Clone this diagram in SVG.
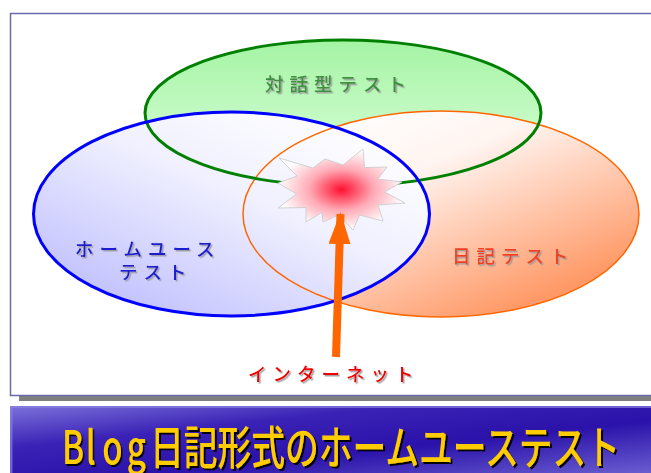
<svg xmlns="http://www.w3.org/2000/svg" width="651" height="473" viewBox="0 0 651 473">
  <defs>
    <linearGradient id="gGreen" x1="0" y1="0" x2="0" y2="1">
      <stop offset="0" stop-color="#a4f4a4"/>
      <stop offset="1" stop-color="#e0ffe0"/>
    </linearGradient>
    <linearGradient id="gOrange" x1="0.1" y1="0.1" x2="0.75" y2="0.9">
      <stop offset="0" stop-color="#ffffff"/>
      <stop offset="0.35" stop-color="#fff4f0"/>
      <stop offset="1" stop-color="#ff9a68"/>
    </linearGradient>
    <linearGradient id="gBlue" x1="0.9" y1="0.1" x2="0.2" y2="0.9">
      <stop offset="0" stop-color="#ffffff"/>
      <stop offset="0.45" stop-color="#f0f0ff"/>
      <stop offset="1" stop-color="#c4c4ff"/>
    </linearGradient>
    <radialGradient id="gStar" cx="0.5" cy="0.5" r="0.5">
      <stop offset="0" stop-color="#ff1030"/>
      <stop offset="0.5" stop-color="#ffa8b4"/>
      <stop offset="1" stop-color="#ffffff"/>
    </radialGradient>
    <linearGradient id="gBar" x1="0" y1="0" x2="1" y2="1">
      <stop offset="0" stop-color="#7c72da"/>
      <stop offset="0.3" stop-color="#3a22b6"/>
      <stop offset="0.6" stop-color="#2a12aa"/>
      <stop offset="1" stop-color="#6e62d2"/>
    </linearGradient>
    <filter id="soft" x="-10%" y="-30%" width="130%" height="170%">
      <feDropShadow dx="1.5" dy="1.5" stdDeviation="0.6" flood-color="#9a9a9a" flood-opacity="0.9"/>
    </filter>
    <filter id="hard" x="-10%" y="-30%" width="130%" height="170%">
      <feDropShadow dx="2" dy="2" stdDeviation="0.4" flood-color="#000000" flood-opacity="0.95"/>
    </filter>
    <marker id="arrowHead" viewBox="0 0 32 22" refX="30" refY="11" markerWidth="32" markerHeight="22" markerUnits="userSpaceOnUse" orient="auto">
      <path d="M0,0 L32,11 L0,22 Z" fill="#ff6600"/>
    </marker>
  </defs>
  <style>
    .lbl { font-family: "Noto Sans CJK JP", "Noto Sans", sans-serif; font-size: 18.5px; font-weight: 500; letter-spacing: 6px; }
    .title { font-family: "Noto Sans CJK JP", "Noto Sans", sans-serif; font-size: 46px; font-weight: 500; fill: #ffcc00; }
  </style>

  <!-- page frame and its shadow -->
  <rect x="19" y="396" width="640" height="5" fill="#808080"/>
  <rect x="10.5" y="13.5" width="650" height="382" fill="#ffffff" stroke="#6a6aaa" stroke-width="1.5"/>

  <!-- circle fills -->
  <g id="fills">
    <ellipse cx="343" cy="113" rx="198" ry="73" fill="url(#gGreen)"/>
    <ellipse cx="441" cy="214" rx="198" ry="103" fill="url(#gOrange)"/>
    <ellipse cx="231.5" cy="214" rx="198" ry="102" fill="url(#gBlue)"/>
  </g>

  <g id="diary">
    <ellipse cx="441" cy="214" rx="198" ry="103" fill="none" stroke="#ff6600" stroke-width="1.5"/>
    <text class="lbl" x="452" y="263" fill="#f04020" letter-spacing="7" filter="url(#soft)">日記テスト</text>
  </g>
  <g id="dialogue">
    <ellipse cx="343" cy="113" rx="198" ry="73" fill="none" stroke="#008000" stroke-width="3"/>
    <text class="lbl" x="265" y="91" fill="#3e903e" letter-spacing="7" filter="url(#soft)">対話型テスト</text>
  </g>
  <g id="homeuse">
    <ellipse cx="231.5" cy="214" rx="198" ry="102" fill="none" stroke="#0000ff" stroke-width="3"/>
    <text class="lbl" x="75" y="256" fill="#1a1ad0" filter="url(#soft)">ホームユース</text>
    <text class="lbl" x="119" y="279" fill="#1a1ad0" letter-spacing="3" filter="url(#soft)">テスト</text>
  </g>

  <!-- burst where the three tests meet -->
  <g id="burst">
    <polygon points="279,158 313,168 325,159 343,165 363,149 364.5,167.6 387,167 378,179 402,182 384.5,192 405,203 378,205 383,221 359.6,215 353,230 338.6,215 323,222 322,212.4 306,222 306,207.5 278,208 296.6,194 278,183 297,176"
             fill="url(#gStar)" stroke="#c8c8c8" stroke-width="0.8"/>
  </g>

  <g id="connectors">
    <line x1="336" y1="357" x2="340.5" y2="214" stroke="#ff6600" stroke-width="8" marker-end="url(#arrowHead)"/>
  </g>

  <g id="internet">
    <text class="lbl" x="248" y="381" fill="#f00000" filter="url(#soft)">インターネット</text>
  </g>

  <!-- title bar -->
  <g id="titlebar">
    <rect x="10" y="406" width="645" height="70" fill="url(#gBar)"/>
    <rect x="10" y="406" width="645" height="2" fill="#8a80e0" opacity="0.7"/>
    <rect x="10" y="406" width="2.5" height="70" fill="#8a80e0" opacity="0.7"/>
    <text class="title" transform="translate(62,464) scale(0.72,1)" x="0 33 56 90" y="0" filter="url(#hard)">Blog</text>
    <text class="title" x="150" y="464" textLength="470" lengthAdjust="spacingAndGlyphs" filter="url(#hard)">日記形式のホームユーステスト</text>
  </g>
</svg>
